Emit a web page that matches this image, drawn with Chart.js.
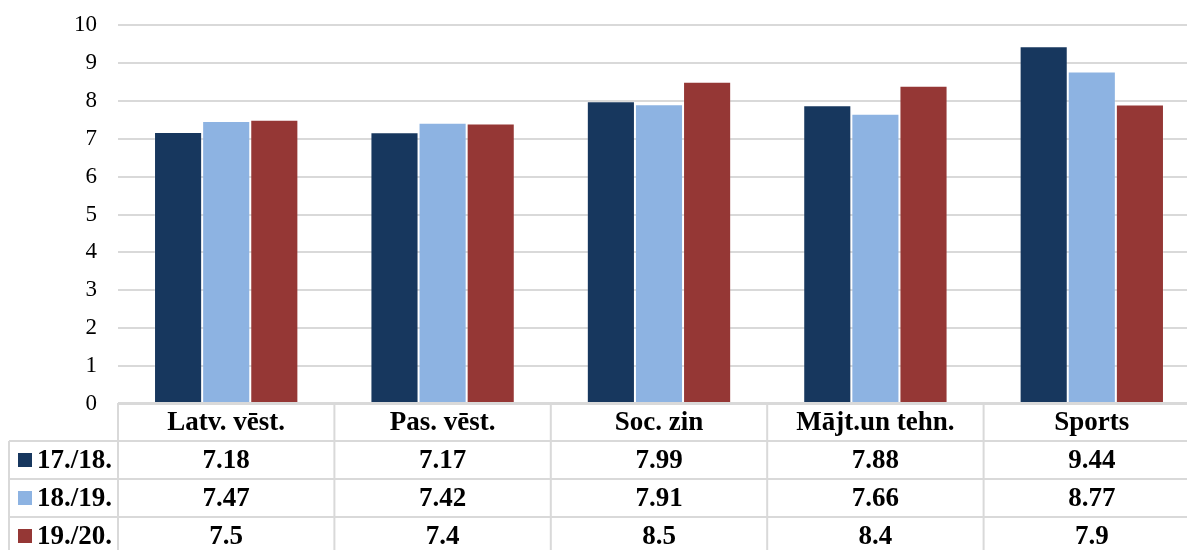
<!DOCTYPE html>
<html>
<head>
<meta charset="utf-8">
<script src="https://cdn.jsdelivr.net/npm/chart.js@4"></script>
<style>
    html, body { margin: 0; padding: 0; background: #fff; overflow: hidden; }
    #wrap { width: 1200px; height: 550px; }
</style>
</head>
<body>
<div id="wrap"><canvas id="chart" width="1200" height="550"></canvas></div>
<script>
// Data
const subjects = ["Latv. vēst.", "Pas. vēst.", "Soc. zin", "Mājt.un tehn.", "Sports"];
const years = ["17./18.", "18./19.", "19./20."];
const values1718 = [7.18, 7.17, 7.99, 7.88, 9.44];
const values1819 = [7.47, 7.42, 7.91, 7.66, 8.77];
const values1920 = [7.5, 7.4, 8.5, 8.4, 7.9];
const yTicks = [0, 1, 2, 3, 4, 5, 6, 7, 8, 9, 10];

const colors = ["#17375E", "#8DB3E2", "#953735"];
const seriesValues = [values1718, values1819, values1920];

const tableFont = "bold 27px 'Liberation Serif', 'Times New Roman', serif";
const borderColor = "#d9d9d9";

// Draws the data table under the plot, aligned on the x scale
const dataTable = {
    id: "dataTable",
    afterDraw(chart) {
        const ctx = chart.ctx;
        const area = chart.chartArea;
        const xScale = chart.scales.x;
        const rowH = 38;
        const top = area.bottom - 1;
        const legendLeft = 9;
        const rows = years.length;
        const bottom = top + rowH * (rows + 1);
        const colW = (area.right - area.left) / subjects.length;

        ctx.save();
        ctx.strokeStyle = borderColor;
        ctx.lineWidth = 2;
        ctx.beginPath();
        // header top line
        ctx.moveTo(area.left, top);
        ctx.lineTo(area.right, top);
        // row lines
        for (let r = 1; r <= rows; r++) {
            ctx.moveTo(legendLeft, top + r * rowH);
            ctx.lineTo(area.right, top + r * rowH);
        }
        // vertical lines
        for (let c = 0; c <= subjects.length; c++) {
            const x = area.left + c * colW;
            ctx.moveTo(x, top);
            ctx.lineTo(x, bottom);
        }
        ctx.moveTo(legendLeft, top + rowH);
        ctx.lineTo(legendLeft, bottom);
        ctx.stroke();

        ctx.font = tableFont;
        ctx.fillStyle = "#000";
        ctx.textAlign = "center";
        ctx.textBaseline = "middle";
        subjects.forEach((s, i) => {
            ctx.fillText(s, xScale.getPixelForValue(i), top + rowH / 2 + 1);
        });
        seriesValues.forEach((vals, r) => {
            const y = top + rowH * (r + 1) + rowH / 2 + 1;
            vals.forEach((v, i) => {
                ctx.fillText(String(v), xScale.getPixelForValue(i), y);
            });
            // legend key
            ctx.fillStyle = colors[r];
            ctx.fillRect(18, y - 8, 14, 14);
            ctx.fillStyle = "#000";
            ctx.textAlign = "left";
            ctx.fillText(years[r], 37, y);
            ctx.textAlign = "center";
        });
        ctx.restore();
    }
};

const ctx = document.getElementById("chart").getContext("2d");
new Chart(ctx, {
    type: "bar",
    data: {
        labels: subjects,
        datasets: years.map((y, i) => ({
            label: y,
            data: seriesValues[i],
            backgroundColor: colors[i],
            borderColor: "rgba(255,255,255,0.18)",
            borderWidth: 1,
            categoryPercentage: 0.667,
            barPercentage: 1.0
        }))
    },
    options: {
        responsive: false,
        animation: false,
        layout: { padding: { top: 25, bottom: 146, left: 0, right: 0 } },
        scales: {
            x: { display: false },
            y: {
                min: 0,
                max: 10,
                afterBuildTicks: scale => { scale.ticks = yTicks.map(v => ({ value: v })); },
                afterFit: scale => {
                    scale.width = 118;
                    scale.paddingTop = 0;
                    scale.paddingBottom = 0;
                },
                border: { display: false },
                grid: { color: borderColor, lineWidth: 2, drawTicks: false },
                ticks: {
                    padding: 21,
                    color: "#000",
                    font: { family: "'Liberation Serif', 'Times New Roman', serif", size: 23 }
                }
            }
        },
        plugins: {
            legend: { display: false },
            tooltip: { enabled: false }
        }
    },
    plugins: [dataTable]
});
</script>
</body>
</html>
